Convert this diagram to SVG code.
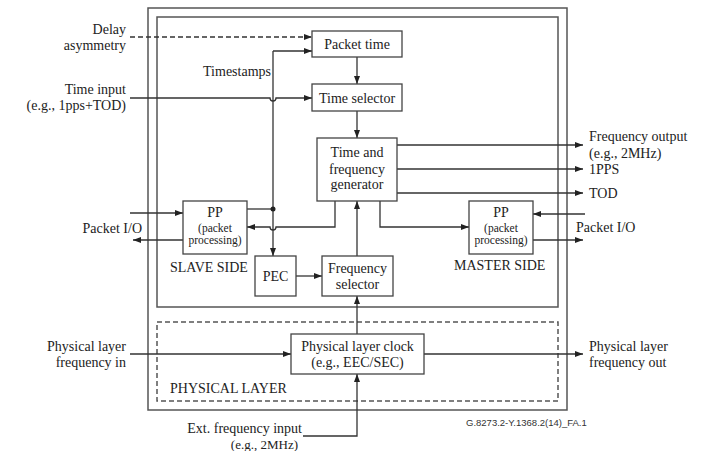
<svg xmlns="http://www.w3.org/2000/svg" width="703" height="451" viewBox="0 0 703 451">
<style>
text{font-family:"Liberation Serif","Times New Roman",serif;font-size:14px;fill:#222}
.e{text-anchor:end}.m{text-anchor:middle}.s{font-size:11.5px}
.box{fill:#fff;stroke:#444;stroke-width:1.3}
.frame{fill:none;stroke:#555;stroke-width:1.5}
.ln{fill:none;stroke:#333;stroke-width:1.3}
.dash{stroke-dasharray:5,3}
.code{font-family:"Liberation Sans",Arial,sans-serif;font-size:9.5px;fill:#333}
</style>
<defs>
<marker id="a" markerWidth="9" markerHeight="7" refX="8" refY="3" orient="auto" markerUnits="userSpaceOnUse"><path d="M0,0 L8,3 L0,6 z" fill="#222"/></marker>
</defs>
<g id="frames">
<rect class="frame" x="148" y="8" width="419" height="402"/>
<rect class="frame" x="157" y="17" width="401" height="290"/>
<rect class="frame dash" x="157" y="322" width="401" height="79" stroke-width="1.2"/>
<text x="170" y="393">PHYSICAL LAYER</text>
</g>
<g id="connectors">
<path class="ln dash" d="M130,37 H312" marker-end="url(#a)"/>
<path class="ln" d="M273,51 H312" marker-end="url(#a)"/>
<path class="ln" d="M273,51 V256" marker-end="url(#a)"/>
<path class="ln" d="M130,98 H270 a3,3 0 0 0 6,0 H312" marker-end="url(#a)"/>
<path class="ln" d="M357,57 V84" marker-end="url(#a)"/>
<path class="ln" d="M357,111 V138" marker-end="url(#a)"/>
<path class="ln" d="M397,145 H583" marker-end="url(#a)"/>
<path class="ln" d="M397,169 H583" marker-end="url(#a)"/>
<path class="ln" d="M397,193 H583" marker-end="url(#a)"/>
<path class="ln" d="M335,201 V227 H276 a3,3 0 0 1 -6,0 H247" marker-end="url(#a)"/>
<path class="ln" d="M380,201 V227 H469" marker-end="url(#a)"/>
<path class="ln" d="M247,209 H273"/>
<circle cx="273" cy="209" r="2.5" fill="#222"/>
<path class="ln" d="M130,213 H183" marker-end="url(#a)"/>
<path class="ln" d="M183,240 H133" marker-end="url(#a)"/>
<path class="ln" d="M585,214 H533" marker-end="url(#a)"/>
<path class="ln" d="M533,240 H583" marker-end="url(#a)"/>
<path class="ln" d="M296,276 H322" marker-end="url(#a)"/>
<path class="ln" d="M357,256 V201" marker-end="url(#a)"/>
<path class="ln" d="M357,334 V296" marker-end="url(#a)"/>
<path class="ln" d="M303,436 H357 V374" marker-end="url(#a)"/>
<path class="ln" d="M130,354 H291" marker-end="url(#a)"/>
<path class="ln" d="M424,354 H583" marker-end="url(#a)"/>
</g>
<g id="packet-time"><rect class="box" x="312" y="31" width="90" height="26"/><text class="m" x="357" y="49">Packet time</text></g>
<g id="time-selector"><rect class="box" x="312" y="84" width="90" height="27"/><text class="m" x="357" y="103">Time selector</text></g>
<g id="generator"><rect class="box" x="317" y="138" width="80" height="63"/><text class="m" x="357" y="157">Time and</text><text class="m" x="357" y="174">frequency</text><text class="m" x="357" y="189">generator</text></g>
<g id="pp-slave"><rect class="box" x="183" y="201" width="64" height="53"/><text class="m" x="215" y="217">PP</text><text class="m s" x="215" y="232">(packet</text><text class="m s" x="215" y="244">processing)</text></g>
<g id="pp-master"><rect class="box" x="469" y="201" width="64" height="53"/><text class="m" x="501" y="217">PP</text><text class="m s" x="501" y="232">(packet</text><text class="m s" x="501" y="244">processing)</text></g>
<g id="pec"><rect class="box" x="255" y="256" width="41" height="40"/><text class="m" x="275.5" y="281">PEC</text></g>
<g id="freq-selector"><rect class="box" x="322" y="256" width="71" height="40"/><text class="m" x="357.5" y="273">Frequency</text><text class="m" x="357.5" y="289">selector</text></g>
<g id="phys-clock"><rect class="box" x="291" y="334" width="133" height="40"/><text class="m" x="357.5" y="351">Physical layer clock</text><text class="m" x="357.5" y="367">(e.g., EEC/SEC)</text></g>
<g id="labels">
<text class="e" x="126" y="34">Delay</text>
<text class="e" x="126" y="50">asymmetry</text>
<text class="e" x="271" y="76">Timestamps</text>
<text class="e" x="126" y="94">Time input</text>
<text class="e" x="126" y="110">(e.g., 1pps+TOD)</text>
<text x="589" y="141">Frequency output</text>
<text x="589" y="158">(e.g., 2MHz)</text>
<text x="589" y="174">1PPS</text>
<text x="589" y="198">TOD</text>
<text class="e" x="142" y="233">Packet I/O</text>
<text x="576" y="232">Packet I/O</text>
<text x="170" y="272">SLAVE SIDE</text>
<text x="454" y="270">MASTER SIDE</text>
<text class="e" x="126" y="351">Physical layer</text>
<text class="e" x="126" y="367">frequency in</text>
<text x="589" y="351">Physical layer</text>
<text x="589" y="367">frequency out</text>
<text class="e" x="302" y="432.5">Ext. frequency input</text>
<text class="e" x="298" y="448.5" style="font-size:13px">(e.g., 2MHz)</text>
<text class="code" x="466" y="426">G.8273.2-Y.1368.2(14)_FA.1</text>
</g>
</svg>
